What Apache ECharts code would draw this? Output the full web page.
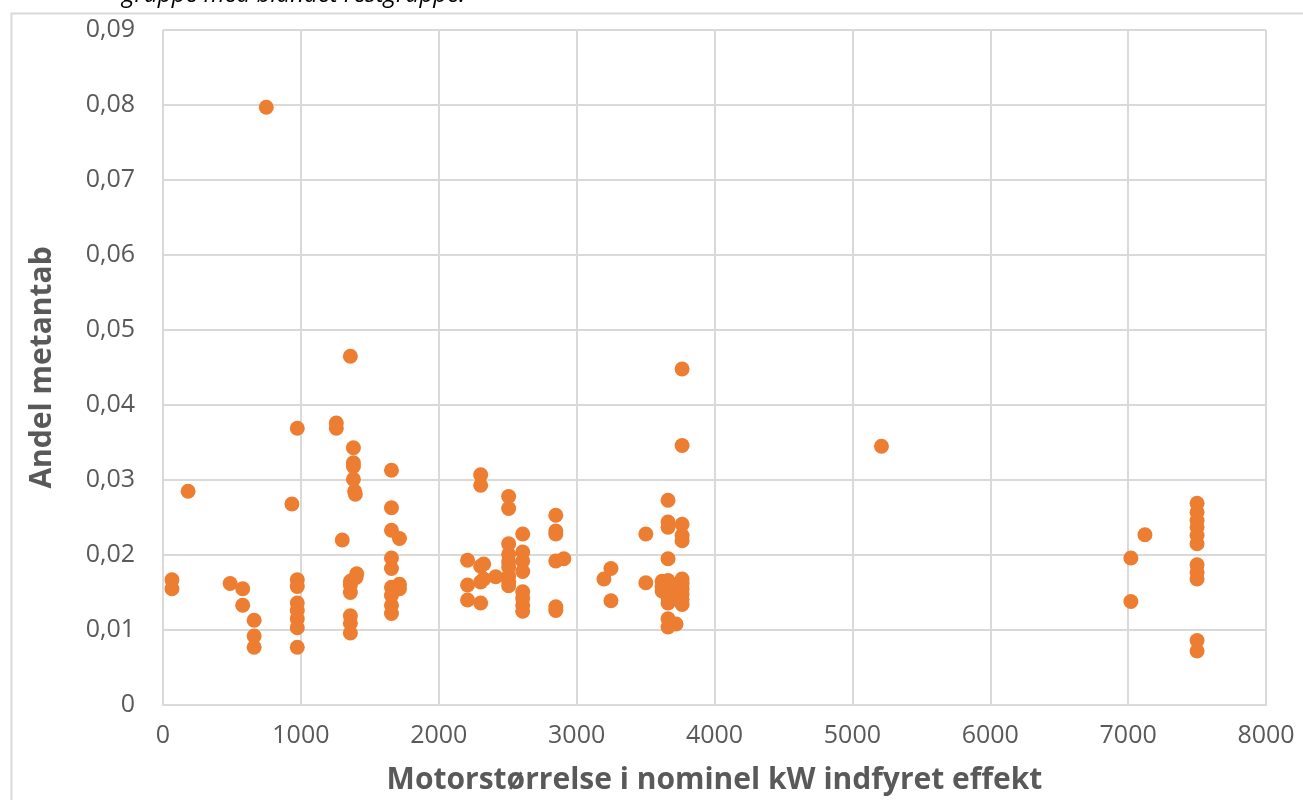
<!DOCTYPE html>
<html>
<head>
<meta charset="utf-8">
<script src="https://cdn.jsdelivr.net/npm/echarts@6/dist/echarts.min.js"></script>
<style>html,body{margin:0;padding:0;background:#fff;}#chart{width:1303px;height:800px;}</style>
</head>
<body>
<div id="chart"></div>
<script>
// Motor size (kW) and methane slip share
const motorKW = [
  65, 65, 182, 487, 578, 578, 661, 661, 661, 749,
  935, 974, 974, 974, 974, 974, 974, 974, 974,
  1257, 1257, 1300, 1359,
  1381, 1381, 1381, 1381, 1390, 1395,
  1359, 1359, 1359, 1359, 1359, 1359, 1405, 1400,
  1657, 1657, 1657, 1715, 1657, 1657, 1715, 1657, 1715, 1657, 1657, 1657,
  2209, 2209, 2209, 2304, 2304, 2304, 2304, 2304, 2413, 2326, 2326,
  2507, 2507, 2507, 2507, 2507, 2507, 2507, 2507, 2507,
  2609, 2609, 2609, 2609, 2609, 2609, 2609, 2609,
  2849, 2849, 2849, 2849, 2849, 2849, 2907,
  3198, 3249, 3249, 3502, 3502,
  3620, 3620, 3620,
  3663, 3663, 3663, 3663, 3663, 3663, 3663, 3663, 3663, 3663, 3663,
  3721,
  3765, 3765, 3765, 3765, 3765, 3765, 3765, 3765, 3765, 3765, 3765,
  5211, 7020, 7020, 7122,
  7500, 7500, 7500, 7500, 7500, 7500, 7500, 7500, 7500, 7500, 7500
];
const methaneShare = [
  0.0167, 0.0155, 0.0285, 0.0162, 0.0155, 0.0133, 0.0113, 0.0092, 0.0077, 0.0797,
  0.0268, 0.0369, 0.0167, 0.0158, 0.0136, 0.0126, 0.0115, 0.0103, 0.0077,
  0.0376, 0.0369, 0.0220, 0.0465,
  0.0343, 0.0323, 0.0318, 0.0301, 0.0285, 0.0281,
  0.0165, 0.0160, 0.0150, 0.0119, 0.0109, 0.0096, 0.0175, 0.0170,
  0.0313, 0.0263, 0.0233, 0.0222, 0.0196, 0.0182, 0.0161, 0.0157, 0.0155, 0.0146, 0.0133, 0.0122,
  0.0193, 0.0160, 0.0140, 0.0307, 0.0293, 0.0185, 0.0164, 0.0136, 0.0171, 0.0188, 0.0168,
  0.0278, 0.0262, 0.0215, 0.0201, 0.0191, 0.0184, 0.0172, 0.0165, 0.0159,
  0.0228, 0.0204, 0.0192, 0.0178, 0.0151, 0.0142, 0.0133, 0.0125,
  0.0253, 0.0232, 0.0228, 0.0192, 0.0131, 0.0126, 0.0195,
  0.0168, 0.0182, 0.0139, 0.0228, 0.0163,
  0.0165, 0.0158, 0.0152,
  0.0273, 0.0244, 0.0237, 0.0195, 0.0166, 0.0158, 0.0150, 0.0143, 0.0136, 0.0115, 0.0104,
  0.0108,
  0.0448, 0.0346, 0.0241, 0.0226, 0.0219, 0.0168, 0.0162, 0.0155, 0.0148, 0.0141, 0.0134,
  0.0345, 0.0196, 0.0138, 0.0227,
  0.0269, 0.0257, 0.0246, 0.0237, 0.0226, 0.0215, 0.0187, 0.0177, 0.0168, 0.0086, 0.0072
];
const xAxisTitle = 'Motorstørrelse i nominel kW indfyret effekt';
const yAxisTitle = 'Andel metantab';
const captionText = 'gruppe med blandet restgruppe.';

const points = motorKW.map((x, i) => [x, methaneShare[i]]);
const chart = echarts.init(document.getElementById('chart'), null, {renderer: 'canvas'});
const labelFont = 'Open Sans';
chart.setOption({
  animation: false,
  backgroundColor: '#ffffff',
  graphic: [
    {type: 'rect', left: 9, top: 11, shape: {width: 1310, height: 800}, style: {fill: 'none', stroke: '#d9d9d9', lineWidth: 2}, silent: true, z: -10},
    {type: 'text', left: 122, top: -17, style: {text: captionText, font: 'italic 24px "Open Sans"', fill: '#000'}, silent: true}
  ],
  grid: {left: 163, right: 37, top: 30, bottom: 95, containLabel: false, outerBoundsMode: 'none'},
  xAxis: {
    type: 'value', min: 0, max: 8000, interval: 1000,
    name: xAxisTitle, nameLocation: 'middle', nameGap: 60,
    nameTextStyle: {fontFamily: labelFont, fontSize: 30, fontWeight: 'bold', color: '#595959'},
    axisLine: {show: true, lineStyle: {color: '#d9d9d9', width: 2}},
    axisTick: {show: false},
    axisLabel: {fontFamily: labelFont, fontSize: 25, color: '#595959', margin: 18, formatter: v => String(v)},
    splitLine: {show: true, lineStyle: {color: '#d9d9d9', width: 2}}
  },
  yAxis: {
    type: 'value', min: 0, max: 0.09, interval: 0.01,
    name: yAxisTitle, nameLocation: 'middle', nameGap: 106, nameRotate: 90,
    nameTextStyle: {fontFamily: labelFont, fontSize: 30, fontWeight: 'bold', color: '#595959'},
    axisLine: {show: false},
    axisTick: {show: false},
    axisLabel: {
      fontFamily: labelFont, fontSize: 25, color: '#595959', margin: 28,
      formatter: v => v === 0 ? '0' : v.toFixed(2).replace('.', ',')
    },
    splitLine: {show: true, lineStyle: {color: '#d9d9d9', width: 2}}
  },
  series: [{
    type: 'scatter',
    data: points,
    symbol: 'circle',
    symbolSize: 15,
    itemStyle: {color: '#ED7D31', opacity: 1}
  }]
});
</script>
</body>
</html>
